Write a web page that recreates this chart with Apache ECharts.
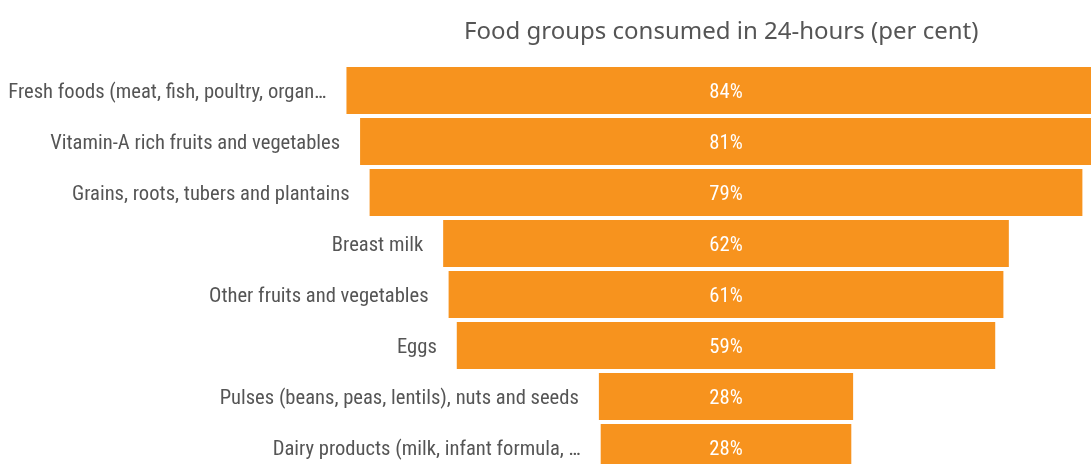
<!DOCTYPE html>
<html>
<head>
<meta charset="utf-8">
<script src="https://cdn.jsdelivr.net/npm/echarts@6/dist/echarts.min.js"></script>
<style>
  html, body { margin: 0; padding: 0; background: #ffffff; }
  #chart { width: 1091px; height: 464px; }
</style>
</head>
<body>
<div id="chart"></div>
<script>
const titleText = 'Food groups consumed in 24-hours (per cent)';
const categories = [
  'Fresh foods (meat, fish, poultry, organ…',
  'Vitamin-A rich fruits and vegetables',
  'Grains, roots, tubers and plantains',
  'Breast milk',
  'Other fruits and vegetables',
  'Eggs',
  'Pulses (beans, peas, lentils), nuts and seeds',
  'Dairy products (milk, infant formula, …'
];
const values = [83.6, 80.6, 78.5, 62.3, 61.1, 59.3, 28.0, 27.6];
const scaleMax = 100;

const offsets = values.map(v => (scaleMax - v) / 2);

const labelFont = "Roboto, sans-serif";

const chart = echarts.init(document.getElementById('chart'), null, { renderer: 'canvas' });
chart.setOption({
  animation: false,
  backgroundColor: '#ffffff',
  title: {
    text: titleText,
    left: 459,
    top: 15,
    textStyle: { fontFamily: "'Noto Sans', sans-serif", fontSize: 24, fontWeight: 'normal', color: '#555555' }
  },
  grid: { left: 272, width: 908, top: 65, height: 408, containLabel: false, outerBoundsMode: 'none' },
  xAxis: { type: 'value', min: 0, max: scaleMax, show: false },
  yAxis: { type: 'category', data: categories, inverse: true, show: false },
  series: [
    {
      type: 'bar',
      stack: 'funnel',
      barWidth: 47,
      silent: true,
      data: offsets,
      itemStyle: { color: 'rgba(0,0,0,0)' },
      label: {
        show: true,
        position: 'insideRight',
        distance: 20,
        offset: [0, 2],
        formatter: p => categories[p.dataIndex],
        fontFamily: labelFont,
        fontStyle: 'condensed',
        fontSize: 20.6,
        color: '#555555',
        align: 'right'
      }
    },
    {
      type: 'bar',
      stack: 'funnel',
      barWidth: 47,
      silent: true,
      data: values,
      itemStyle: { color: '#f7931e' },
      label: {
        show: true,
        position: 'inside',
        offset: [0, 2],
        formatter: p => Math.round(p.value) + '%',
        fontFamily: labelFont,
        fontStyle: 'condensed',
        fontSize: 20.6,
        color: '#ffffff'
      }
    }
  ]
});
</script>
</body>
</html>
